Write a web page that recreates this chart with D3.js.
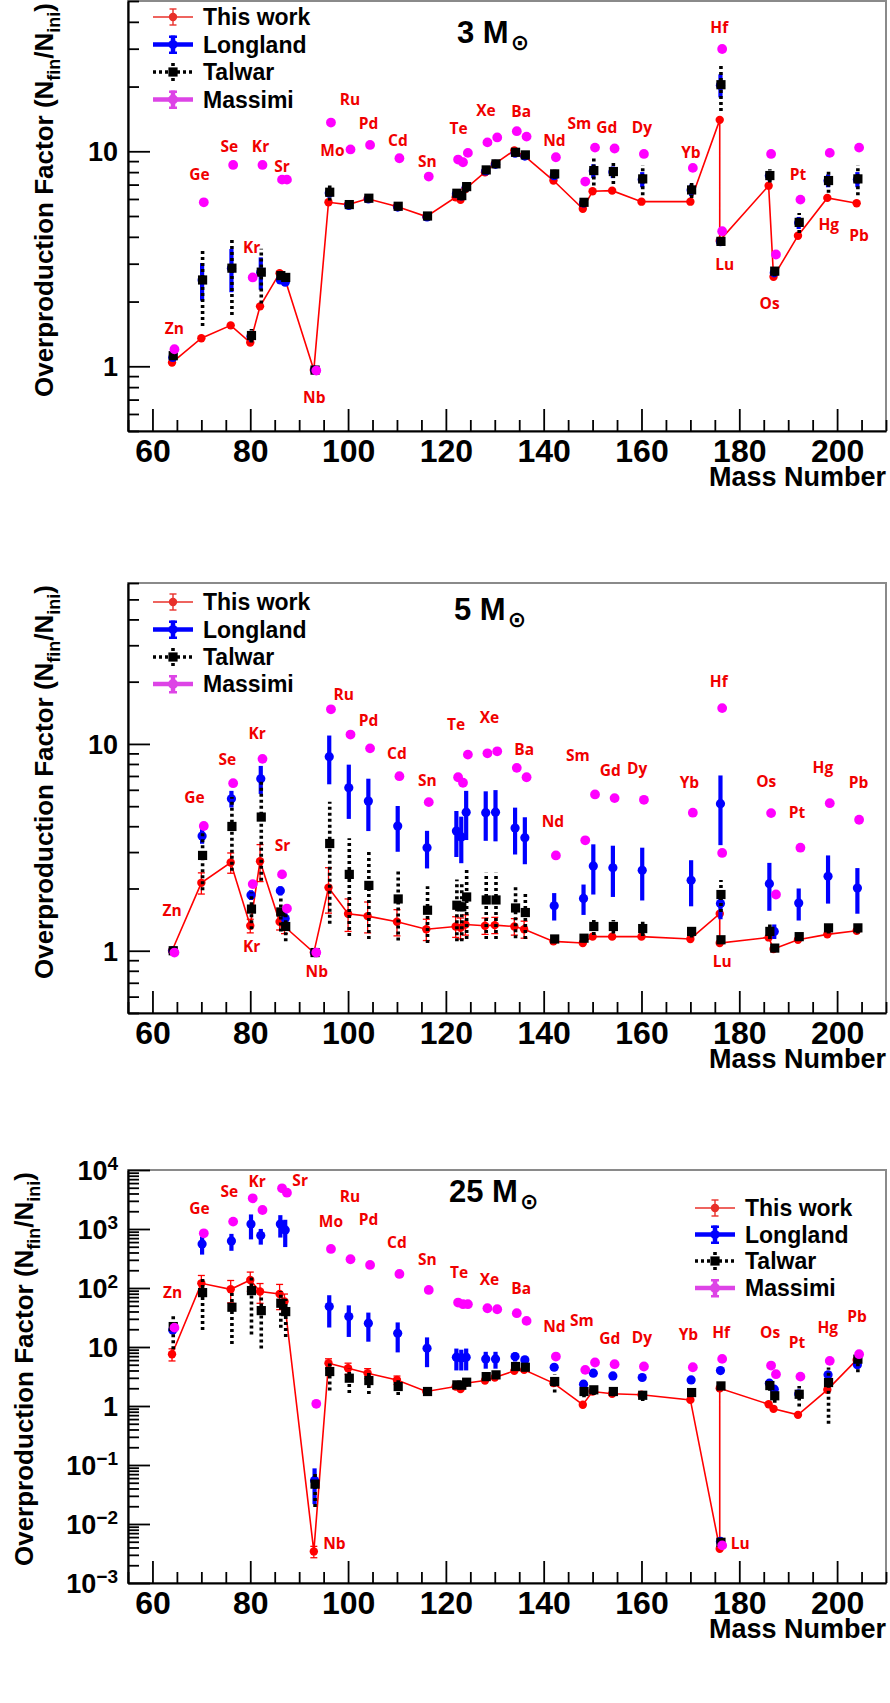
<!DOCTYPE html>
<html>
<head>
<meta charset="utf-8">
<script src="https://cdn.jsdelivr.net/npm/d3@7"></script>
<style>
  body { margin: 0; background: #fff; }
  svg { display: block; }
</style>
</head>
<body>
<div class="container"></div>
<script>
// isotopes (mass number + element), shared by all three panels
const masses = [64, 70, 76, 80, 82, 86, 87, 93, 96, 100, 104, 110, 116, 122, 123, 124, 128, 130,
  134, 136, 142, 148, 150, 154, 160, 170, 176, 176, 186, 187, 192, 198, 204];
const elements = ["Zn", "Ge", "Se", "Kr", "Kr", "Sr", "Sr", "Nb", "Mo", "Ru", "Pd", "Cd", "Sn", "Te", "Te", "Te",
  "Xe", "Xe", "Ba", "Ba", "Nd", "Sm", "Sm", "Gd", "Dy", "Yb", "Hf", "Lu", "Os", "Os", "Pt", "Hg", "Pb"];

// ---- 3 Msun ----
const work3 = [1.04, 1.35, 1.55, 1.29, 1.90, 2.71, 2.59, 0.96, 5.79, 5.65, 6.01, 5.53, 4.97, 6.11, 5.95, 6.68, 7.99,
  8.74, 10.1, 9.55, 7.31, 5.40, 6.52, 6.56, 5.83, 5.83, 14.0, 3.84, 6.92, 2.61, 4.05, 6.07, 5.73];
const work3Err = [0.02, 0.03, 0.03, 0.03, 0.04, 0.05, 0.05, 0.02, 0.1, 0.1, 0.1, 0.1, 0.1, 0.1, 0.1, 0.1, 0.1,
  0.1, 0.2, 0.2, 0.1, 0.1, 0.1, 0.1, 0.1, 0.1, 0.3, 0.08, 0.1, 0.05, 0.08, 0.1, 0.1];
const longland3 = [1.10, 2.52, 2.86, 1.38, 2.74, 2.52, 2.46, 0.96, 6.4, 5.6, 6.0, 5.5, 4.95, 6.35, 6.2, 6.8, 8.1,
  8.7, 9.8, 9.5, 7.7, 5.75, 8.1, 8.0, 7.4, 6.6, 20.3, 3.8, 7.7, 2.72, 4.65, 7.3, 7.4];
const longland3Err = [0.03, 0.5, 0.65, 0.08, 0.47, 0.08, 0.08, 0.02, 0.3, 0.1, 0.1, 0.1, 0.1, 0.2, 0.2, 0.3, 0.2,
  0.2, 0.3, 0.2, 0.3, 0.2, 0.6, 0.5, 0.6, 0.4, 2.5, 0.1, 0.4, 0.1, 0.3, 0.5, 0.6];
const talwar3 = [1.12, 2.52, 2.86, 1.39, 2.74, 2.64, 2.59, 0.96, 6.45, 5.65, 6.05, 5.55, 5.0, 6.38, 6.22, 6.85, 8.19,
  8.74, 9.89, 9.62, 7.85, 5.79, 8.13, 8.05, 7.44, 6.61, 20.4, 3.81, 7.71, 2.77, 4.67, 7.31, 7.44];
const talwar3Err = [0.05, 0.98, 1.13, 0.1, 0.78, 0.1, 0.1, 0.02, 0.55, 0.2, 0.2, 0.15, 0.15, 0.3, 0.3, 0.4, 0.3,
  0.3, 0.4, 0.3, 0.4, 0.3, 1.2, 1.0, 1.2, 0.55, 5.0, 0.15, 0.55, 0.15, 0.5, 0.9, 1.2];
const massimi3 = [1.20, 5.79, 8.64, 2.59, 8.64, 7.38, 7.38, 0.955, 13.6, 10.2, 10.7, 9.28, 7.63, 9.15, 8.89, 9.83,
  11.0, 11.6, 12.4, 11.7, 9.38, 7.23, 10.4, 10.3, 9.72, 8.37, 29.9, 4.25, 9.72, 3.31, 5.96, 9.83, 10.4];
const labels3 = [["Zn", 64.5, 1.5], ["Ge", 69.6, 7.77], ["Se", 75.7, 10.5], ["Kr", 82.1, 10.5], ["Sr", 86.5, 8.51],
  ["Kr", 80.3, 3.58], ["Nb", 93.1, 0.713], ["Mo", 96.8, 10.1], ["Ru", 100.4, 17.4], ["Pd", 104.2, 13.4],
  ["Cd", 110.2, 11.2], ["Sn", 116.2, 8.98], ["Te", 122.6, 12.8], ["Xe", 128.2, 15.5], ["Ba", 135.4, 15.3],
  ["Nd", 142.2, 11.2], ["Sm", 147.3, 13.5], ["Gd", 152.9, 12.9], ["Dy", 160.1, 12.9], ["Yb", 170.1, 9.9],
  ["Hf", 175.9, 37.5], ["Lu", 177.0, 2.97], ["Os", 186.2, 1.96], ["Pt", 192.0, 7.77], ["Hg", 198.3, 4.55],
  ["Pb", 204.5, 4.05]];

// ---- 5 Msun ----
const work5 = [1.0, 2.13, 2.67, 1.32, 2.71, 1.38, 1.31, 0.98, 2.02, 1.51, 1.47, 1.38, 1.27, 1.31, 1.29, 1.34, 1.32,
  1.33, 1.31, 1.27, 1.11, 1.09, 1.17, 1.17, 1.17, 1.14, 1.51, 1.09, 1.16, 1.02, 1.13, 1.20, 1.25];
const work5Err = [0.03, 0.25, 0.3, 0.1, 0.55, 0.12, 0.1, 0.02, 0.5, 0.27, 0.25, 0.2, 0.15, 0.15, 0.15, 0.15, 0.12,
  0.12, 0.12, 0.12, 0.03, 0.03, 0.03, 0.03, 0.03, 0.03, 0.05, 0.03, 0.03, 0.03, 0.03, 0.03, 0.03];
const longland5 = [1.0, 3.59, 5.43, 1.86, 6.78, 1.95, 1.43, 0.98, 8.68, 6.14, 5.29, 4.01, 3.15, 3.79, 3.55, 4.68,
  4.65, 4.68, 3.92, 3.52, 1.65, 1.79, 2.57, 2.52, 2.45, 2.19, 5.14, 1.69, 2.11, 1.24, 1.70, 2.29, 2.01];
const longland5Err = [0.02, 0.3, 0.5, 0.1, 1.05, 0.1, 0.1, 0.02, 2.3, 1.8, 1.5, 1.0, 0.65, 0.95, 0.9, 1.25, 1.25,
  1.3, 1.0, 0.9, 0.25, 0.3, 0.7, 0.7, 0.7, 0.55, 1.9, 0.27, 0.55, 0.1, 0.3, 0.6, 0.5];
const talwar5 = [1.0, 2.89, 3.99, 1.59, 4.43, 1.54, 1.31, 0.98, 3.30, 2.34, 2.07, 1.78, 1.57, 1.66, 1.63, 1.82,
  1.76, 1.76, 1.61, 1.53, 1.14, 1.15, 1.31, 1.31, 1.28, 1.24, 1.87, 1.13, 1.24, 1.03, 1.17, 1.29, 1.29];
const talwar5Err = [0.02, 0.93, 1.55, 0.32, 2.25, 0.3, 0.2, 0.02, 1.95, 1.16, 0.93, 0.66, 0.48, 0.55, 0.52, 0.68,
  0.62, 0.62, 0.46, 0.39, 0.03, 0.05, 0.12, 0.1, 0.1, 0.08, 0.33, 0.03, 0.1, 0.03, 0.05, 0.08, 0.08];
const massimi5 = [0.98, 4.01, 6.46, 2.10, 8.47, 2.34, 1.60, 0.98, 14.7, 11.1, 9.52, 6.98, 5.23, 6.90, 6.49, 8.88,
  9.01, 9.21, 7.66, 6.90, 2.89, 3.42, 5.70, 5.47, 5.37, 4.65, 14.9, 2.97, 4.63, 1.87, 3.15, 5.17, 4.30];
const labels5 = [["Zn", 64.0, 1.57], ["Ge", 68.6, 5.49], ["Se", 75.3, 8.37], ["Kr", 81.4, 11.2], ["Sr", 86.6, 3.21],
  ["Kr", 80.3, 1.05], ["Nb", 93.6, 0.79], ["Ru", 99.1, 17.3], ["Pd", 104.2, 12.9], ["Cd", 110.0, 8.95],
  ["Sn", 116.2, 6.65], ["Te", 122.1, 12.4], ["Xe", 128.9, 13.4], ["Ba", 136.0, 9.35], ["Nd", 141.9, 4.19],
  ["Sm", 147.0, 8.78], ["Gd", 153.6, 7.43], ["Dy", 159.1, 7.57], ["Yb", 169.8, 6.53], ["Hf", 175.8, 20.0],
  ["Lu", 176.5, 0.885], ["Os", 185.5, 6.6], ["Pt", 191.8, 4.68], ["Hg", 197.1, 7.71], ["Pb", 204.4, 6.53]];

// ---- 25 Msun ----
const work25 = [7.55, 120, 95, 137, 87, 79, 59, 0.00343, 5.31, 4.37, 3.60, 2.77, 1.76, 2.14, 1.93, 2.44, 2.70,
  3.04, 3.94, 4.10, 2.44, 1.05, 1.76, 1.61, 1.55, 1.27, 2.00, 0.00381, 1.07, 0.895, 0.708, 1.88, 6.05];
const work25Err = [1.75, 43, 39, 49, 32, 36, 20, 0.00075, 1.0, 0.95, 0.7, 0.45, 0.2, 0.2, 0.2, 0.2, 0.2,
  0.2, 0.25, 0.25, 0.2, 0.08, 0.1, 0.1, 0.1, 0.08, 0.1, 0.0003, 0.08, 0.06, 0.05, 0.1, 0.3];
const longland25 = [19.5, 558, 627, 1216, 773, 1216, 964, 0.0547, 48.4, 32.8, 25.3, 17.1, 9.55, 6.71, 6.5, 6.71,
  6.29, 6.29, 6.88, 6.05, 4.54, 2.34, 3.60, 3.24, 3.04, 2.77, 3.99, 0.00506, 2.44, 1.93, 1.6, 3.37, 4.98];
const longland25Err = [3, 190, 200, 550, 230, 500, 470, 0.033, 27, 18, 13, 9, 5, 2.7, 2.5, 2.7, 2.0, 2.0, 1.2,
  1.0, 0.2, 0.2, 0.3, 0.3, 0.3, 0.2, 0.3, 0.0003, 0.3, 0.2, 0.2, 0.4, 0.5];
const talwar25 = [22.2, 83.5, 47.2, 90.3, 41.4, 55.2, 39.8, 0.0474, 3.84, 2.96, 2.70, 2.14, 1.76, 2.28, 2.25, 2.53,
  3.15, 3.37, 4.67, 4.54, 2.60, 1.76, 1.88, 1.76, 1.52, 1.69, 2.19, 0.0049, 2.22, 1.49, 1.58, 2.50, 6.22];
const talwar25Err = [13, 64, 36, 74, 32, 34, 25, 0.028, 2.0, 1.3, 1.1, 0.6, 0.1, 0.3, 0.3, 0.3, 0.3, 0.3, 0.4,
  0.4, 0.9, 0.35, 0.35, 0.3, 0.3, 0.15, 0.2, 0.0003, 0.4, 0.35, 0.6, 2.0, 2.5];
const massimi25 = [21.3, 846, 1334, 3311, 2101, 4890, 4128, 1.09, 459, 307, 246, 173, 92.7, 56.6, 53.1, 53.1,
  45.4, 43.6, 37.4, 27.7, 6.88, 4.10, 5.46, 5.11, 4.67, 4.54, 6.29, 0.00434, 4.85, 3.46, 3.15, 5.82, 7.55];
const labels25 = [["Zn", 64.1, 83.6], ["Ge", 69.6, 2244], ["Se", 75.7, 4296], ["Kr", 81.4, 6340], ["Sr", 90.2, 6510],
  ["Mo", 96.5, 1333], ["Ru", 100.4, 3530], ["Pd", 104.2, 1423], ["Cd", 110.0, 596], ["Sn", 116.2, 299],
  ["Nb", 97.2, 0.00462], ["Te", 122.7, 185], ["Xe", 128.9, 137], ["Ba", 135.4, 99], ["Nd", 142.2, 22.2],
  ["Sm", 147.8, 27.7], ["Gd", 153.5, 13.7], ["Dy", 160.1, 14.7], ["Yb", 169.6, 16.0], ["Hf", 176.3, 17.8],
  ["Os", 186.3, 17.8], ["Pt", 191.8, 11.9], ["Hg", 198.1, 21.7], ["Pb", 204.1, 32.7], ["Lu", 180.2, 0.00475]];

const legendNames = ["This work", "Longland", "Talwar", "Massimi"];

main();

function main() {
  const container = document.querySelector(".container");
  const width = 890;
  const height = 1703;
  const margin = { left: 128, right: 4 };

  const svg = d3
    .create("svg")
    .attr("width", width)
    .attr("height", height)
    .attr("viewBox", [0, 0, width, height])
    .style("font-family", "'Liberation Sans', Arial, sans-serif");

  const col = {
    work: "#ff0000",
    longland: "#0000ff",
    talwar: "#000000",
    massimi: "#ff00ff",
  };
  const shift = { longland: 0.15, talwar: 0.25, massimi: 0.5 }; // small horizontal offsets between the graphs

  const x = d3.scaleLinear().domain([55, 210]).range([margin.left, width - margin.right]);

  const panels = [
    {
      top: 1, bottom: 431, yDomain: [0.5, 50], title: "3 M", titleX: 457, titleY: 43,
      work: work3, workErr: work3Err, longland: longland3, longlandErr: longland3Err,
      talwar: talwar3, talwarErr: talwar3Err, massimi: massimi3, labels: labels3,
      legendX: 173, legendY: [17, 44.5, 72, 99.5], ytitleX: 53, luFirst: false, expLabels: false,
    },
    {
      top: 583, bottom: 1013, yDomain: [0.5, 60], title: "5 M", titleX: 454, titleY: 620,
      work: work5, workErr: work5Err, longland: longland5, longlandErr: longland5Err,
      talwar: talwar5, talwarErr: talwar5Err, massimi: massimi5, labels: labels5,
      legendX: 173, legendY: [602, 629.5, 657, 684], ytitleX: 53, luFirst: false, expLabels: false,
    },
    {
      top: 1170, bottom: 1583, yDomain: [1e-3, 1e4], title: "25 M", titleX: 449, titleY: 1202,
      work: work25, workErr: work25Err, longland: longland25, longlandErr: longland25Err,
      talwar: talwar25, talwarErr: talwar25Err, massimi: massimi25, labels: labels25,
      legendX: 715, legendY: [1208, 1234.5, 1261, 1288], ytitleX: 33, luFirst: true, expLabels: true,
    },
  ];

  panels.forEach((p) => drawPanel(p));

  function drawPanel(p) {
    const y = d3.scaleLog().domain(p.yDomain).range([p.bottom, p.top]);
    const g = svg.append("g");
    const lo = p.yDomain[0];
    const yc = (v) => y(Math.max(v, lo));

    // frame (top/right are grey in the original)
    g.append("rect")
      .attr("x", x.range()[0])
      .attr("y", p.top)
      .attr("width", x.range()[1] - x.range()[0])
      .attr("height", p.bottom - p.top)
      .attr("fill", "none")
      .attr("stroke", "#8a8a8a")
      .attr("stroke-width", 2);

    // x axis: ticks every 5, labels every 20
    const xMajor = d3.range(60, 201, 20);
    const xMinor = d3.range(55, 211, 5).filter((v) => v % 20 !== 0);
    g.append("g")
      .attr("transform", `translate(0,${p.bottom})`)
      .call(d3.axisBottom(x).tickValues(xMinor).tickSize(-11).tickSizeOuter(0).tickFormat(""))
      .call((a) => a.select(".domain").remove());
    g.append("g")
      .attr("transform", `translate(0,${p.bottom})`)
      .call(d3.axisBottom(x).tickValues(xMajor).tickSize(-22).tickSizeOuter(0).tickPadding(8))
      .call((a) => a.select(".domain").attr("stroke-width", 2.2))
      .call((a) =>
        a.selectAll("text")
          .attr("fill", "#000")
          .style("font-size", "32px")
          .style("font-weight", "bold")
          .style("font-family", "'Liberation Sans', Arial, sans-serif")
      );

    // y axis: log decades + 2..9 minors
    const yMajor = [];
    const yMinor = [];
    const e0 = Math.floor(Math.log10(p.yDomain[0]));
    const e1 = Math.ceil(Math.log10(p.yDomain[1]));
    for (let e = e0; e <= e1; e++) {
      for (let k = 1; k <= 9; k++) {
        const v = +(k * Math.pow(10, e)).toPrecision(6);
        if (v < p.yDomain[0] * 0.999 || v > p.yDomain[1] * 1.001) continue;
        (k === 1 ? yMajor : yMinor).push(v);
      }
    }
    g.append("g")
      .attr("transform", `translate(${x.range()[0]},0)`)
      .call(d3.axisLeft(y).tickValues(yMinor).tickSize(-11).tickSizeOuter(0).tickFormat(""))
      .call((a) => a.select(".domain").remove());
    g.append("g")
      .attr("transform", `translate(${x.range()[0]},0)`)
      .call(d3.axisLeft(y).tickValues(yMajor).tickSize(-22).tickSizeOuter(0).tickPadding(10).tickFormat(""))
      .call((a) => a.select(".domain").attr("stroke-width", 2.2))
      .call((a) =>
        a.selectAll(".tick").each(function (d) {
          const t = d3.select(this).append("text")
            .attr("x", -10)
            .attr("dy", "0.35em")
            .attr("text-anchor", "end")
            .attr("fill", "#000")
            .style("font-size", "27px")
            .style("font-weight", "bold");
          const e = Math.round(Math.log10(d));
          if (!p.expLabels || e === 0 || e === 1) {
            t.text(d >= 1 ? d3.format("d")(d) : d);
          } else {
            t.append("tspan").text("10");
            t.append("tspan")
              .attr("dy", "-0.5em")
              .style("font-size", "19px")
              .text(e < 0 ? "\u2212" + -e : e);
          }
        })
      );
    g.selectAll(".tick line").attr("stroke-width", 1.8);

    // axis titles
    g.append("text")
      .attr("x", x.range()[1])
      .attr("y", p.bottom + 55)
      .attr("text-anchor", "end")
      .style("font-size", "27px")
      .style("font-weight", "bold")
      .text("Mass Number");

    const yt = g.append("text")
      .attr("transform", `translate(${p.ytitleX},${p.top + 2}) rotate(-90)`)
      .attr("text-anchor", "end")
      .style("font-size", "26px")
      .style("font-weight", "bold");
    yt.append("tspan").text("Overproduction Factor (N");
    yt.append("tspan").attr("dy", 7).style("font-size", "18px").text("fin");
    yt.append("tspan").attr("dy", -7).text("/N");
    yt.append("tspan").attr("dy", 7).style("font-size", "18px").text("ini");
    yt.append("tspan").attr("dy", -7).text(")");

    // panel title
    const tt = g.append("text")
      .attr("x", p.titleX)
      .attr("y", p.titleY)
      .style("font-size", "31px")
      .style("font-weight", "bold")
      .text(p.title);
    tt.append("tspan")
      .attr("dx", 2)
      .attr("dy", 7)
      .style("font-family", "'DejaVu Sans', sans-serif")
      .style("font-size", "22px")
      .text("\u2299");

    const idx = d3.range(masses.length);

    // This work: line + thin error bars with caps + circles
    const lineOrder = idx.slice();
    if (p.luFirst) {
      lineOrder[26] = 27;
      lineOrder[27] = 26;
    }
    g.append("path")
      .datum(lineOrder)
      .attr("fill", "none")
      .attr("stroke", col.work)
      .attr("stroke-width", 1.6)
      .attr("d", d3.line().x((i) => x(masses[i])).y((i) => y(p.work[i])));

    const wErr = g.append("g").attr("stroke", col.work).attr("stroke-width", 1.3);
    idx.forEach((i) => {
      const cx = x(masses[i]);
      const y1 = yc(p.work[i] - p.workErr[i]);
      const y2 = y(p.work[i] + p.workErr[i]);
      if (y1 - y2 < 7) return;
      wErr.append("line").attr("x1", cx).attr("x2", cx).attr("y1", y1).attr("y2", y2);
      wErr.append("line").attr("x1", cx - 3.5).attr("x2", cx + 3.5).attr("y1", y1).attr("y2", y1);
      wErr.append("line").attr("x1", cx - 3.5).attr("x2", cx + 3.5).attr("y1", y2).attr("y2", y2);
    });
    g.append("g")
      .selectAll("circle")
      .data(idx)
      .join("circle")
      .attr("cx", (i) => x(masses[i]))
      .attr("cy", (i) => y(p.work[i]))
      .attr("r", 4.2)
      .attr("fill", col.work);

    // Longland: thick blue bars
    g.append("g")
      .selectAll("line")
      .data(idx)
      .join("line")
      .attr("x1", (i) => x(masses[i] + shift.longland))
      .attr("x2", (i) => x(masses[i] + shift.longland))
      .attr("y1", (i) => yc(p.longland[i] - p.longlandErr[i]))
      .attr("y2", (i) => y(p.longland[i] + p.longlandErr[i]))
      .attr("stroke", col.longland)
      .attr("stroke-width", 4.2);
    g.append("g")
      .selectAll("circle")
      .data(idx)
      .join("circle")
      .attr("cx", (i) => x(masses[i] + shift.longland))
      .attr("cy", (i) => y(p.longland[i]))
      .attr("r", 4.6)
      .attr("fill", col.longland);

    // Talwar: dotted bars + squares
    g.append("g")
      .selectAll("line")
      .data(idx)
      .join("line")
      .attr("x1", (i) => x(masses[i] + shift.talwar))
      .attr("x2", (i) => x(masses[i] + shift.talwar))
      .attr("y1", (i) => yc(p.talwar[i] - p.talwarErr[i]))
      .attr("y2", (i) => y(p.talwar[i] + p.talwarErr[i]))
      .attr("stroke", col.talwar)
      .attr("stroke-width", 3.6)
      .attr("stroke-dasharray", "3,3");
    g.append("g")
      .selectAll("rect")
      .data(idx)
      .join("rect")
      .attr("x", (i) => x(masses[i] + shift.talwar) - 4.6)
      .attr("y", (i) => y(p.talwar[i]) - 4.6)
      .attr("width", 9.2)
      .attr("height", 9.2)
      .attr("fill", col.talwar);

    // Massimi: circles
    g.append("g")
      .selectAll("circle")
      .data(idx)
      .join("circle")
      .attr("cx", (i) => x(masses[i] + shift.massimi))
      .attr("cy", (i) => y(p.massimi[i]))
      .attr("r", 4.9)
      .attr("fill", col.massimi);

    // element labels
    g.append("g")
      .selectAll("text")
      .data(p.labels)
      .join("text")
      .attr("x", (d) => x(d[1]))
      .attr("y", (d) => y(d[2]))
      .attr("dy", "0.35em")
      .attr("text-anchor", "middle")
      .attr("fill", "#f00000")
      .style("font-family", "'Open Sans', sans-serif")
      .style("font-weight", "bold")
      .style("font-size", "15.5px")
      .text((d) => d[0]);

    drawLegend(g, p.legendX, p.legendY);
  }

  function drawLegend(g, cx, ys) {
    const L = g.append("g");
    const half = 20;
    // This work
    let cy = ys[0];
    L.append("line").attr("x1", cx - half).attr("x2", cx + half).attr("y1", cy).attr("y2", cy)
      .attr("stroke", "#e8302a").attr("stroke-width", 1.6);
    L.append("line").attr("x1", cx).attr("x2", cx).attr("y1", cy - 8).attr("y2", cy + 8)
      .attr("stroke", "#e8302a").attr("stroke-width", 1.4);
    [-8, 8].forEach((o) =>
      L.append("line").attr("x1", cx - 3.5).attr("x2", cx + 3.5).attr("y1", cy + o).attr("y2", cy + o)
        .attr("stroke", "#e8302a").attr("stroke-width", 1.4)
    );
    L.append("circle").attr("cx", cx).attr("cy", cy).attr("r", 4.2).attr("fill", "#e8302a");

    // Longland
    cy = ys[1];
    L.append("line").attr("x1", cx - half).attr("x2", cx + half).attr("y1", cy).attr("y2", cy)
      .attr("stroke", col.longland).attr("stroke-width", 4.5);
    L.append("line").attr("x1", cx).attr("x2", cx).attr("y1", cy - 9).attr("y2", cy + 9)
      .attr("stroke", col.longland).attr("stroke-width", 4.5);
    [-9, 7].forEach((o) =>
      L.append("rect").attr("x", cx - 4).attr("y", cy + o).attr("width", 8).attr("height", 2.5).attr("fill", col.longland)
    );
    L.append("circle").attr("cx", cx).attr("cy", cy).attr("r", 4.6).attr("fill", col.longland);

    // Talwar
    cy = ys[2];
    L.append("line").attr("x1", cx - half).attr("x2", cx + half).attr("y1", cy).attr("y2", cy)
      .attr("stroke", "#000").attr("stroke-width", 3.6).attr("stroke-dasharray", "3,3");
    L.append("line").attr("x1", cx).attr("x2", cx).attr("y1", cy - 9).attr("y2", cy + 9)
      .attr("stroke", "#000").attr("stroke-width", 3.6).attr("stroke-dasharray", "3,2");
    L.append("rect").attr("x", cx - 4.6).attr("y", cy - 4.6).attr("width", 9.2).attr("height", 9.2).attr("fill", "#000");

    // Massimi
    cy = ys[3];
    const mc = "#dd44e6";
    L.append("line").attr("x1", cx - half).attr("x2", cx + half).attr("y1", cy).attr("y2", cy)
      .attr("stroke", mc).attr("stroke-width", 4.5);
    L.append("line").attr("x1", cx).attr("x2", cx).attr("y1", cy - 9).attr("y2", cy + 9)
      .attr("stroke", mc).attr("stroke-width", 4.5);
    [-9, 7].forEach((o) =>
      L.append("rect").attr("x", cx - 4).attr("y", cy + o).attr("width", 8).attr("height", 2.5).attr("fill", mc)
    );
    L.append("circle").attr("cx", cx).attr("cy", cy).attr("r", 4.9).attr("fill", mc);

    L.selectAll("text.legend")
      .data(legendNames)
      .join("text")
      .attr("class", "legend")
      .attr("x", cx + 30)
      .attr("y", (d, i) => ys[i])
      .attr("dy", "0.36em")
      .style("font-size", "23px")
      .style("font-weight", "bold")
      .text((d) => d);
  }

  container.append(svg.node());
}
</script>
</body>
</html>
